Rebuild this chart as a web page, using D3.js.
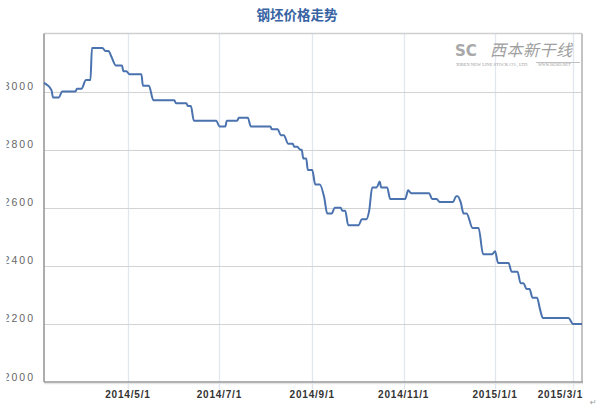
<!DOCTYPE html>
<html><head><meta charset="utf-8">
<script src="https://cdn.jsdelivr.net/npm/d3@7"></script>
<style>
body{margin:0;background:#fff;}
svg{display:block;}
</style></head>
<body>
<svg id="c" width="600" height="418"></svg>
<script>
const title = "钢坯价格走势";
const dates = ["2014-03-06","2014-03-11","2014-03-12","2014-03-16","2014-03-18","2014-03-27","2014-03-28","2014-03-31","2014-04-03","2014-04-06",
"2014-04-07","2014-04-14","2014-04-16","2014-04-18","2014-04-20","2014-04-23","2014-04-27","2014-04-28","2014-04-30","2014-05-02",
"2014-05-10","2014-05-11","2014-05-15","2014-05-18","2014-06-01","2014-06-02","2014-06-09","2014-06-10","2014-06-12","2014-06-14",
"2014-06-29","2014-07-01","2014-07-05","2014-07-06","2014-07-13","2014-07-14","2014-07-20","2014-07-22","2014-08-04","2014-08-05",
"2014-08-09","2014-08-11","2014-08-13","2014-08-16","2014-08-19","2014-08-20","2014-08-22","2014-08-24","2014-08-25","2014-08-26",
"2014-08-28","2014-08-29","2014-09-01","2014-09-03","2014-09-06","2014-09-09","2014-09-11","2014-09-14","2014-09-16","2014-09-20",
"2014-09-21","2014-09-23","2014-09-25","2014-10-02","2014-10-04","2014-10-07","2014-10-09","2014-10-11","2014-10-14","2014-10-16",
"2014-10-17","2014-10-21","2014-10-23","2014-11-02","2014-11-04","2014-11-06","2014-11-18","2014-11-20","2014-11-23","2014-11-25",
"2014-12-04","2014-12-06","2014-12-07","2014-12-09","2014-12-11","2014-12-13","2014-12-17","2014-12-21","2014-12-24","2014-12-30",
"2015-01-01","2015-01-03","2015-01-10","2015-01-12","2015-01-16","2015-01-18","2015-01-20","2015-01-22","2015-01-24","2015-01-26",
"2015-01-29","2015-01-31","2015-02-02","2015-02-26","2015-03-01","2015-03-07"];
const prices = [3030,3005,2980,2980,3000,3000,3010,3010,3040,3040,
3150,3150,3140,3140,3120,3090,3090,3070,3070,3060,
3060,3020,3020,2970,2970,2960,2960,2950,2950,2900,
2900,2880,2880,2900,2900,2910,2910,2880,2880,2870,
2870,2850,2850,2820,2820,2810,2810,2800,2800,2770,
2770,2730,2730,2680,2680,2635,2580,2580,2600,2600,
2590,2590,2540,2540,2560,2560,2590,2670,2670,2690,
2670,2670,2630,2630,2660,2650,2650,2630,2630,2620,
2620,2640,2640,2620,2580,2580,2530,2530,2440,2440,
2450,2410,2410,2380,2380,2340,2340,2320,2320,2290,
2290,2250,2220,2220,2200,2200];
const xTickDates = ["2014-05-01","2014-07-01","2014-09-01","2014-11-01","2015-01-01","2015-03-01"];
const xTickLabels = ["2014/5/1","2014/7/1","2014/9/1","2014/11/1","2015/1/1","2015/3/1"];
const yTicks = [2000,2200,2400,2600,2800,3000];
const yTickLabels = ["2000","2200","2400","2600","2800","3000"];
// Spring Festival closure (no quotes) — skipped on the date axis
const holiday = ["2015-02-18","2015-02-25"];

const parse = d3.timeParse("%Y-%m-%d");
const pts = dates.map((d,i)=>({d:parse(d), v:prices[i]}));
const start = parse(dates[0]), end = parse(dates[dates.length-1]);
const hS = parse(holiday[0]), hE = parse(holiday[1]);
function eff(d){
  let n = d3.timeDay.count(start, d);
  if (d >= hE) n -= d3.timeDay.count(hS, hE);
  else if (d > hS) n -= d3.timeDay.count(hS, d);
  return n;
}

const L=44, R=582, T=33.5, B=382;
const svg = d3.select("#c");
const xs = d3.scaleLinear().domain([0, eff(end)]).range([L,R]);
const x = d => xs(eff(d));
const y = d3.scaleLinear().domain([2000,3200]).range([B,T]);

// title
svg.append("text").attr("x",297).attr("y",20).attr("text-anchor","middle")
  .attr("font-family","'Noto Sans CJK SC',sans-serif").attr("font-weight","bold")
  .attr("font-size",13.5).attr("fill","#3763a3").text(title);

// vertical gridlines (extend below as ticks)
svg.append("g").selectAll("line").data(xTickDates).join("line")
  .attr("x1",d=>Math.round(x(parse(d)))+0.5).attr("x2",d=>Math.round(x(parse(d)))+0.5)
  .attr("y1",T).attr("y2",B+7).attr("stroke","#e2e6ee").attr("stroke-width",1.3);

// horizontal gridlines
svg.append("g").selectAll("line").data(yTicks.filter(v=>v>2000)).join("line")
  .attr("x1",L).attr("x2",R).attr("y1",d=>Math.round(y(d))+0.5).attr("y2",d=>Math.round(y(d))+0.5)
  .attr("stroke","#d3d3d3").attr("stroke-width",1.2);

// watermark
const wm = svg.append("g");
wm.append("text").attr("x",455).attr("y",56).attr("font-family","'DejaVu Sans',sans-serif")
  .attr("font-weight","bold").attr("font-size",15).attr("fill","#a8a8a8").text("SC");
wm.append("text").attr("x",490).attr("y",56).attr("font-family","'Noto Sans CJK SC',sans-serif")
  .attr("font-style","italic").attr("font-size",16).attr("fill","#a0a0a0").attr("letter-spacing",0.5).text("西本新干线");
wm.append("text").attr("x",456).attr("y",66).attr("font-family","'Liberation Serif',serif")
  .attr("font-size",4.5).attr("fill","#9a9a9a").text("XIBEN NEW LINE STOCK CO., LTD.");
wm.append("text").attr("x",538).attr("y",66).attr("font-family","'Liberation Serif',serif")
  .attr("font-style","italic").attr("font-size",4.5).attr("fill","#9a9a9a").text("WWW.96369.NET");
wm.append("line").attr("x1",536).attr("x2",580).attr("y1",62.5).attr("y2",62.5).attr("stroke","#b0b0b0").attr("stroke-width",0.8);

// frame
svg.append("line").attr("x1",L).attr("x2",R).attr("y1",T).attr("y2",T).attr("stroke","#cfcfcf").attr("stroke-width",1.5);
svg.append("line").attr("x1",R).attr("x2",R).attr("y1",T).attr("y2",B).attr("stroke","#c4c4c4").attr("stroke-width",2);
svg.append("line").attr("x1",L).attr("x2",R+1).attr("y1",B+1.5).attr("y2",B+1.5).attr("stroke","#e6e6e6").attr("stroke-width",1.5);
svg.append("line").attr("x1",L).attr("x2",R+1).attr("y1",B).attr("y2",B).attr("stroke","#999").attr("stroke-width",1.6);
svg.append("line").attr("x1",L).attr("x2",L).attr("y1",T).attr("y2",B).attr("stroke","#999").attr("stroke-width",1.6);

// line
const line = d3.line().x(p=>x(p.d)).y(p=>y(p.v)).curve(d3.curveMonotoneX);
svg.append("path").datum(pts).attr("d",line).attr("fill","none")
  .attr("stroke","#4a72ae").attr("stroke-width",2).attr("stroke-linejoin","round");

// y labels (left edge clipped as in reference)
svg.append("clipPath").attr("id","yclip").append("rect").attr("x",6.5).attr("y",0).attr("width",40).attr("height",418);
svg.append("g").attr("clip-path","url(#yclip)").selectAll("text").data(yTicks).join("text")
  .attr("x",35).attr("y",d=>y(d)-1.5).attr("text-anchor","end")
  .attr("font-family","'Liberation Sans',Arial,sans-serif").attr("font-size",10.5)
  .attr("letter-spacing",2).attr("fill","#666").text((d,i)=>yTickLabels[i]);

// x labels (last one kept inside the plot's right edge)
svg.append("g").selectAll("text").data(xTickDates).join("text")
  .attr("x",d=>x(parse(d))).attr("y",398).attr("text-anchor","middle")
  .attr("font-family","'Liberation Sans',Arial,sans-serif").attr("font-weight","bold").attr("font-size",10)
  .attr("letter-spacing",0.8).attr("fill","#333").text((d,i)=>xTickLabels[i])
  .each(function(d){
    const w = this.getComputedTextLength();
    const cx = x(parse(d));
    if (cx + w/2 > R) d3.select(this).attr("text-anchor","end").attr("x", R + 1);
  });

// paragraph mark
svg.append("text").attr("x",590).attr("y",405).attr("font-family","'DejaVu Sans',sans-serif")
  .attr("font-size",8).attr("fill","#999").text("↵");
</script>
</body></html>
